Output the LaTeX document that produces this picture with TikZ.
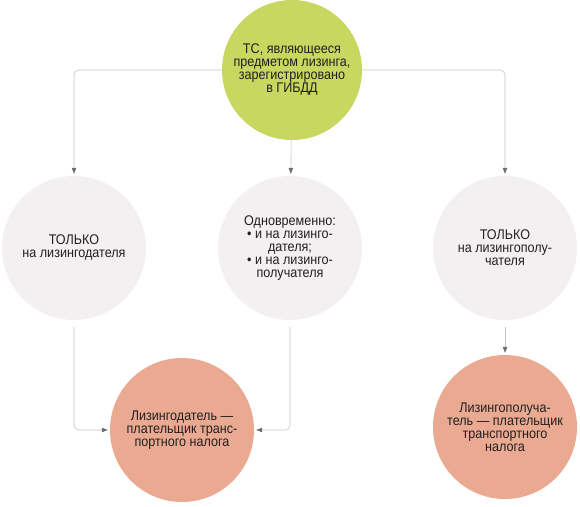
\documentclass[tikz,border=0pt]{standalone}
\usepackage{fontspec}
\setmainfont{Liberation Sans}[FakeStretch=0.9]
\usetikzlibrary{arrows.meta}
\definecolor{tsgreen}{RGB}{200,215,95}
\definecolor{casegray}{RGB}{242,240,240}
\definecolor{paysalmon}{RGB}{234,170,146}
\definecolor{linkgray}{RGB}{195,195,195}
\definecolor{tipgray}{RGB}{110,110,110}
\definecolor{txtdark}{RGB}{35,31,32}
\tikzset{
  circ/.style={
    circle, fill=#1, minimum size=144pt, inner sep=0pt,
    font=\fontsize{14pt}{13pt}\selectfont, text=txtdark, align=center,
  },
  link/.style={-{Triangle[length=6pt, width=4.5pt, color=tipgray]}, linkgray, line width=0.6pt},
}
\begin{document}
\begin{tikzpicture}[x=1pt, y=-1pt]
\useasboundingbox (0,0) rectangle (580,506);

% top question
\node[circ=tsgreen, minimum size=140pt] (ts) at (292, 70)
  {ТС, являющееся\\предметом лизинга,\\зарегистрировано\\в ГИБДД};

% three cases
\node[circ=casegray] (lessor) at (74, 248) {ТОЛЬКО\\на лизингодателя};
\node[circ=casegray] (both) at (290, 248)
  {Одновременно:\\• и на лизинго-\\дателя;\\• и на лизинго-\\получателя};
\node[circ=casegray] (lessee) at (505, 248) {ТОЛЬКО\\на лизингополу-\\чателя};

% who pays
\node[circ=paysalmon] (paylessor) at (182, 430)
  {Лизингодатель —\\плательщик транс-\\портного налога};
\node[circ=paysalmon] (paylessee) at (505, 427)
  {Лизингополуча-\\тель — плательщик\\транспортного\\налога};

% --- links ---
\draw[link, rounded corners=5pt, shorten >=2pt] (ts) -| (lessor);
\draw[link, shorten >=2pt] (ts) -- (both);
\draw[link, rounded corners=5pt, shorten >=2pt] (ts) -| (lessee);

\draw[link, rounded corners=5pt, shorten <=7pt, shorten >=2pt] (lessor) |- (paylessor);
\draw[link, rounded corners=5pt, shorten <=7pt, shorten >=2pt] (both) |- (paylessor);
\draw[link, shorten <=7pt, shorten >=2pt] (lessee) -- (paylessee);

\end{tikzpicture}
\end{document}
